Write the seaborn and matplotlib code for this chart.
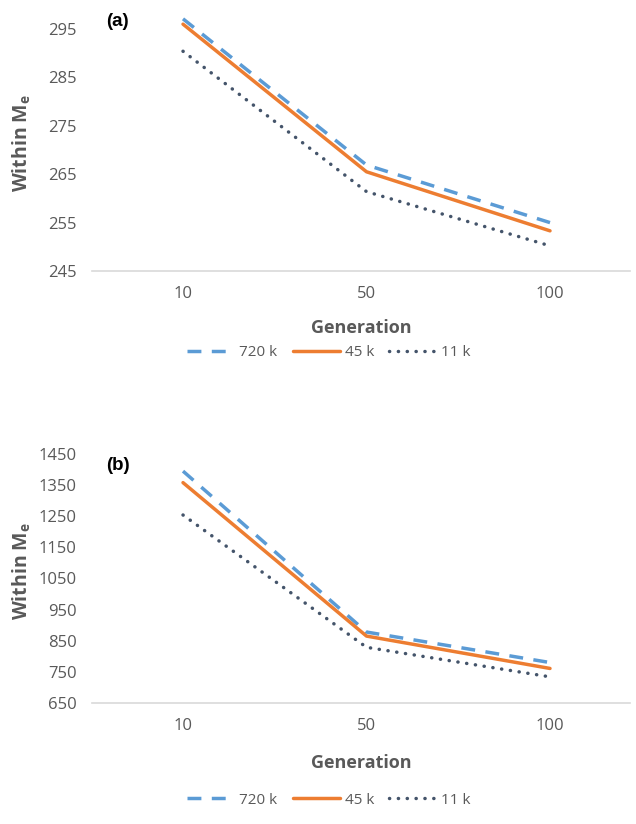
import matplotlib
matplotlib.use("Agg")
import matplotlib.pyplot as plt
import seaborn as sns
import pandas as pd

generations = ["10", "50", "100"]
series_names = ["720 k", "45 k", "11 k"]

a_720k = [297.1, 266.9, 255.0]
a_45k = [296.0, 265.5, 253.3]
a_11k = [290.4, 261.4, 250.2]

b_720k = [1395, 878, 780]
b_45k = [1358, 865, 761]
b_11k = [1254, 829, 734]

a_ticks = [245, 255, 265, 275, 285, 295]
b_ticks = [650, 750, 850, 950, 1050, 1150, 1250, 1350, 1450]

sns.set_theme(style="white")
plt.rcParams["font.family"] = ["Open Sans", "DejaVu Sans"]

palette = {"720 k": "#5B9BD5", "45 k": "#ED7D31", "11 k": "#44546A"}
dashes = {"720 k": (4, 3), "45 k": "", "11 k": (0.05, 2.5)}
gray = "#595959"


def long_df(v720, v45, v11):
    rows = []
    for name, vals in zip(series_names, [v720, v45, v11]):
        for g, v in zip(generations, vals):
            rows.append({"Generation": g, "Me": v, "Set": name})
    return pd.DataFrame(rows)


fig = plt.figure(figsize=(6.36, 8.24), dpi=100)
W, H = 636, 824


def make_axes(top_px, bottom_px):
    left, right = 92, 630
    return fig.add_axes([left / W, 1 - bottom_px / H, (right - left) / W, (bottom_px - top_px) / H])


panels = [
    (make_axes(29, 271), long_df(a_720k, a_45k, a_11k), a_ticks, "(a)", 22, 328, 353),
    (make_axes(454, 703), long_df(b_720k, b_45k, b_11k), b_ticks, "(b)", 465, 763, 800),
]

for ax, df, ticks, tag, tag_y, xl_y, leg_y in panels:
    sns.lineplot(data=df, x="Generation", y="Me", hue="Set", style="Set",
                 palette=palette, dashes=dashes, sort=False, linewidth=2.5,
                 ax=ax, clip_on=False)
    for line in ax.lines:
        if line.get_label() == "11 k" or line.get_color() == "#44546A":
            line.set_dash_capstyle("round")
    ax.set_xlim(-0.496, 2.436)
    ax.set_ylim(ticks[0], ticks[-1])
    ax.set_yticks(ticks)
    for s in ["top", "right", "left"]:
        ax.spines[s].set_visible(False)
    ax.spines["bottom"].set_color("#D9D9D9")
    ax.spines["bottom"].set_linewidth(1.2)
    ax.tick_params(axis="both", length=0, labelsize=12, labelcolor=gray)
    ax.tick_params(axis="y", pad=11)
    ax.tick_params(axis="x", pad=11)
    ax.set_xlabel("Generation", fontsize=13, fontweight="bold", color=gray)
    ax.xaxis.label.set_va("center")
    ax_h = ax.get_position().height * H
    ax_top = (1 - ax.get_position().y1) * H
    ax.xaxis.set_label_coords(0.5, 1 - (xl_y - ax_top) / ax_h)
    ax.set_ylabel(r"Within M$_\mathregular{e}$", fontsize=14, fontweight="bold", color=gray)
    ax.yaxis.label.set_va("center")
    ax.yaxis.set_label_coords(-(92 - 22) / 538, 0.53)
    fig.text(106 / W, 1 - tag_y / H, tag, fontsize=13.5, fontweight="bold",
             family="Liberation Sans", color="black", va="center", ha="left")
    handles, labels = ax.get_legend_handles_labels()
    for h in handles:
        h.set_linewidth(2.5)
        if h.get_label() == "11 k":
            h.set_dash_capstyle("round")
    if ax.get_legend() is not None:
        ax.get_legend().remove()
    leg = fig.legend(handles, labels, loc="center", bbox_to_anchor=(329 / W, 1 - leg_y / H),
                     ncol=3, frameon=False, fontsize=11, handlelength=3.1,
                     handletextpad=0.3, columnspacing=1.0)
    for t in leg.get_texts():
        t.set_color(gray)

fig.savefig("out.png", dpi=100)
